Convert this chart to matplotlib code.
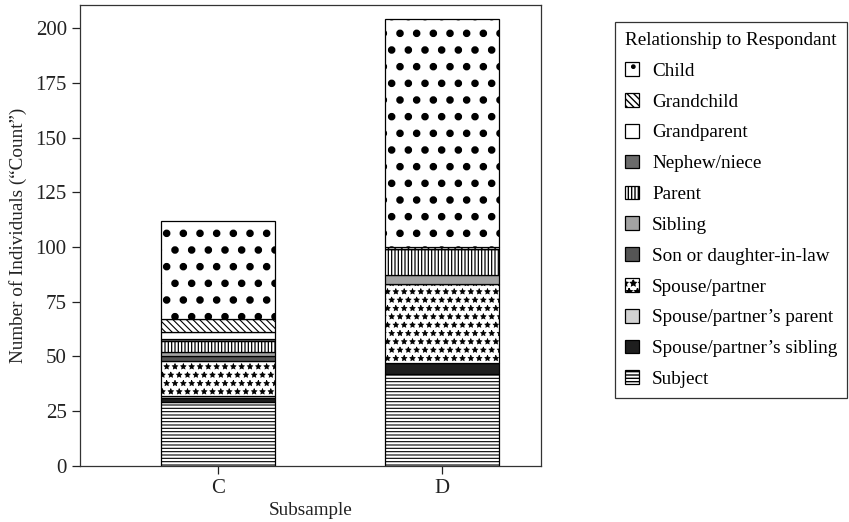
import matplotlib.pyplot as plt
import numpy as np

plt.rcParams['font.family'] = ['Liberation Serif', 'DejaVu Serif']

# subsamples on the x axis
subsamples = ['C', 'D']

# legend order (top of the stack first)
relationships = ['Child', 'Grandchild', 'Grandparent', 'Nephew/niece', 'Parent',
                 'Sibling', 'Son or daughter-in-law', 'Spouse/partner',
                 'Spouse/partner\u2019s parent', 'Spouse/partner\u2019s sibling', 'Subject']

# counts per relationship, same order as above
counts_c = [45, 6, 3, 1, 5, 2, 2, 16, 1, 2, 29]
counts_d = [104, 1, 0, 0, 12, 4, 0, 36, 0, 5, 42]

# fill colour, hatch pattern, hatch linewidth
styles = {
    'Child': ('white', '.', 3.0),
    'Grandchild': ('white', '\\\\\\\\\\', 0.8),
    'Grandparent': ('white', '', 1.0),
    'Nephew/niece': ('#6b6b6b', '', 1.0),
    'Parent': ('white', '|||||', 0.9),
    'Sibling': ('#a3a3a3', '', 1.0),
    'Son or daughter-in-law': ('#555555', '', 1.0),
    'Spouse/partner': ('white', '**', 0.5),
    'Spouse/partner\u2019s parent': ('#d2d2d2', '', 1.0),
    'Spouse/partner\u2019s sibling': ('#1e1e1e', '', 1.0),
    'Subject': ('white', '-----', 0.8),
}

fig = plt.figure(figsize=(8.49, 5.22), dpi=100)
ax = fig.add_axes([0.0942, 0.1073, 0.637 - 0.0942, 0.9904 - 0.1073])

x = np.arange(len(subsamples))
data = np.array([counts_c, counts_d])  # shape (2, 11)

handles = {}
bottom = np.zeros(len(subsamples))
# stack from bottom (last in legend) to top
for i in range(len(relationships) - 1, -1, -1):
    name = relationships[i]
    color, hatch, hlw = styles[name]
    vals = data[:, i]
    with plt.rc_context({'hatch.linewidth': hlw}):
        bars = ax.bar(x, vals, width=0.51, bottom=bottom, color=color,
                      edgecolor='black', linewidth=0.9, hatch=hatch)
    handles[name] = bars
    bottom = bottom + vals

ax.set_xlim(-0.616, 1.44)
ax.set_ylim(0, 210.5)
ax.set_yticks(np.arange(0, 201, 25))
ax.set_xticks(x)
ax.set_xticklabels(subsamples)
ax.tick_params(labelsize=15, length=6, width=0.9, colors='#222222')
for s in ax.spines.values():
    s.set_linewidth(0.9)
    s.set_color('#333333')

ax.set_ylabel('Number of Individuals (\u201cCount\u201d)', fontsize=13.8, color='#222222', labelpad=6)
ax.set_xlabel('Subsample', fontsize=13.8, color='#222222', labelpad=3)

leg = fig.legend([handles[n] for n in relationships], relationships,
                 loc='upper left', bbox_to_anchor=(0.7244, 0.957),
                 title='Relationship to Respondant', alignment='left',
                 fontsize=13.8, title_fontsize=13.8, frameon=True, fancybox=False,
                 edgecolor='black', handlelength=0.73, handleheight=0.73,
                 handletextpad=0.7, labelspacing=0.69, borderpad=0.5,
                 borderaxespad=0)
leg.get_frame().set_linewidth(0.9)

fig.savefig('out.png', dpi=100)
